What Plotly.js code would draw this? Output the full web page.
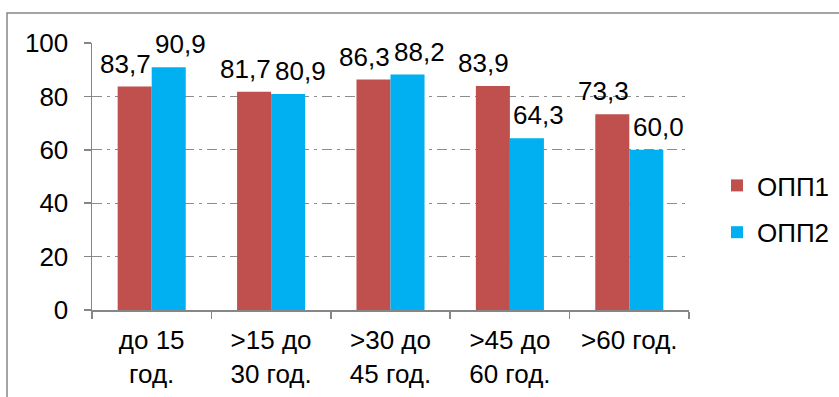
<!DOCTYPE html>
<html>
<head>
<meta charset="utf-8">
<script src="https://cdn.plot.ly/plotly-3.0.1.min.js"></script>
<style>html,body{margin:0;padding:0;background:#fff;}#chart{width:839px;height:397px;}</style>
</head>
<body>
<div id="chart"></div>
<script>
const categories = ["до 15<br>год.", ">15 до<br>30 год.", ">30 до<br>45 год.", ">45 до<br>60 год.", ">60 год."];
const seriesNames = ["ОПП1", "ОПП2"];
const opp1 = [83.7, 81.7, 86.3, 83.9, 73.3];
const opp2 = [90.9, 80.9, 88.2, 64.3, 60.0];
const yTicks = [0, 20, 40, 60, 80, 100];

const colors = ["#C0504D", "#00B0F0"];
const FONT = "Arial, 'Liberation Sans', sans-serif";
const FS = 26;

const fmt = v => v.toFixed(1).replace('.', ',');

const traces = [opp1, opp2].map((vals, i) => ({
  type: 'bar',
  name: seriesNames[i],
  x: categories,
  y: vals,
  marker: {color: colors[i], line: {width: 0}},
  legendgroup: 'g' + i,
  hoverinfo: 'none'
}));

const annotations = [];
[opp1, opp2].forEach((vals, i) => {
  vals.forEach((v, j) => {
    annotations.push({
      x: categories[j], y: v, xref: 'x', yref: 'y',
      text: fmt(v), showarrow: false,
      xanchor: 'center', yanchor: 'bottom',
      xshift: i === 0 ? -26 : 29, yshift: 6,
      font: {family: FONT, size: FS, color: '#000'}
    });
  });
});

const L = 92, R = 150, T = 43, B = 87;
const pw = 839 - L - R, ph = 397 - T - B;
const px = x => (x - L) / pw;
const py = y => (397 - B - y) / ph;

const layout = {
  width: 839, height: 397,
  margin: {l: L, r: R, t: T, b: B, pad: 0, autoexpand: false},
  paper_bgcolor: '#fff', plot_bgcolor: '#fff',
  font: {family: FONT, size: FS, color: '#000'},
  barmode: 'group',
  bargap: 0.43,
  bargroupgap: 0,
  showlegend: true,
  legend: {
    x: px(717), xanchor: 'left', y: py(209), yanchor: 'middle',
    traceorder: 'grouped', tracegroupgap: 10,
    font: {family: FONT, size: FS, color: '#000'},
    bgcolor: 'rgba(0,0,0,0)', borderwidth: 0
  },
  xaxis: {
    type: 'category',
    showline: true, linecolor: '#868686', linewidth: 1.5,
    ticks: 'outside', tickson: 'boundaries', ticklen: 7, tickcolor: '#868686', tickwidth: 1.5,
    showgrid: false, zeroline: false,
    ticklabelstandoff: 6,
    tickfont: {family: FONT, size: FS, color: '#000'}
  },
  yaxis: {
    range: [0, 100], tickvals: yTicks, ticktext: yTicks.map(String),
    showline: true, linecolor: '#868686', linewidth: 1.5,
    ticks: 'outside', ticklen: 7, tickcolor: '#868686', tickwidth: 1.5,
    showgrid: true, gridcolor: '#8c8c8c', gridwidth: 1.3, griddash: '10px,5px,3px,5px',
    zeroline: false,
    ticklabelstandoff: 10,
    tickfont: {family: FONT, size: FS, color: '#000'}
  },
  annotations: annotations,
  shapes: [{
    type: 'rect', xref: 'paper', yref: 'paper',
    x0: px(7), x1: px(845), y0: py(405), y1: py(13),
    line: {color: '#868686', width: 1.5}, fillcolor: 'rgba(0,0,0,0)', layer: 'below'
  }]
};

Plotly.newPlot('chart', traces, layout, {staticPlot: true, displayModeBar: false});
</script>
</body>
</html>
